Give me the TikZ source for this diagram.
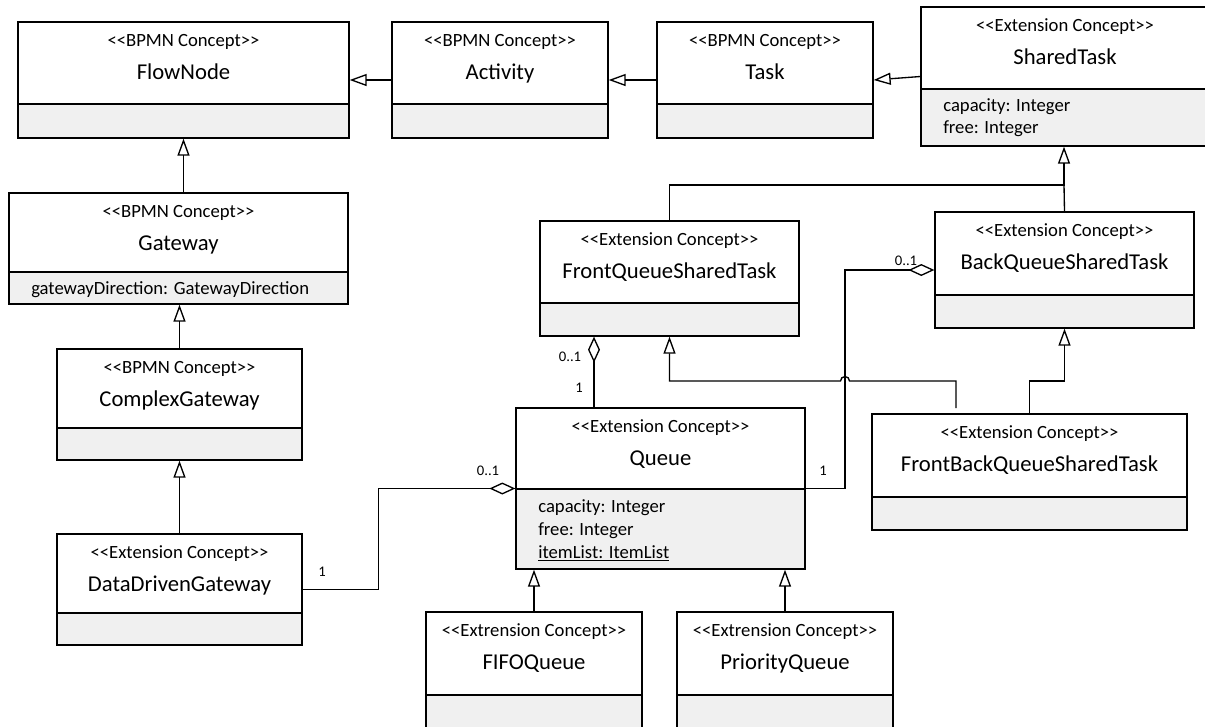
\documentclass[tikz,border=0pt]{standalone}
\usepackage{fontspec}
\setmainfont{Carlito}
\usetikzlibrary{arrows.meta, fit, calc}
\definecolor{attrfill}{RGB}{240,240,240}

\begin{document}
\begin{tikzpicture}[
    x=0.75pt, y=-0.75pt,
    umlclass/.style={draw=black, line width=1pt, inner sep=0pt, fit={#1}},
    attrs/.style={path picture={
        \fill[attrfill] (path picture bounding box.south west) rectangle ([yshift=#1*0.75pt]path picture bounding box.south east);
        \draw[line width=1pt] ([yshift=#1*0.75pt]path picture bounding box.south west) -- ([yshift=#1*0.75pt]path picture bounding box.south east);}},
    stereotext/.style={font=\fontsize{14}{16}\selectfont, inner sep=0pt, text depth=0pt, yshift=-18.75pt},
    nametext/.style={font=\fontsize{17}{20}\selectfont, inner sep=0pt, text depth=0pt, yshift=-43.5pt},
    stereo/.style={label={[stereotext]north:<{}<#1 Concept>{}>}},
    cname/.style={label={[nametext]north:#1}},
    attr/.style={font=\fontsize{14}{16}\selectfont, inner sep=0pt, anchor=base west},
    mult/.style={font=\fontsize{11}{13}\selectfont, inner sep=0pt},
    gen/.style={-{Triangle[open, length=12.75pt, width=9pt]}, line width=1pt},
    aggr/.style={-{Diamond[open, length=19.5pt, width=9pt]}, line width=1pt}
]
    \clip (0,0) rectangle (1205,726);
    \fill[white] (0,0) rectangle (1205,726);

    % BPMN classes
    \node[umlclass={(18,22)(349,138)}, attrs=34, stereo=BPMN, cname=FlowNode] (flownode) {};
    \node[umlclass={(392,22)(608,138)}, attrs=34, stereo=BPMN, cname=Activity] (activity) {};
    \node[umlclass={(657,22)(873,138)}, attrs=34, stereo=BPMN, cname=Task] (task) {};
    \node[umlclass={(9,193)(348,304)}, attrs=32, stereo=BPMN, cname=Gateway] (gateway) {};
    \node[umlclass={(57,349)(302,460)}, attrs=32, stereo=BPMN, cname=ComplexGateway] (complex) {};

    % extension classes
    \node[umlclass={(921,7)(1209,146)}, attrs=57, stereo=Extension, cname=SharedTask] (shared) {};
    \node[umlclass={(57,534)(302,645)}, attrs=32, stereo=Extension, cname=DataDrivenGateway] (ddg) {};
    \node[umlclass={(540,221)(799,336)}, attrs=33, stereo=Extension, cname=FrontQueueSharedTask] (fqst) {};
    \node[umlclass={(935,212)(1194,328)}, attrs=33, stereo=Extension, cname=BackQueueSharedTask] (bqst) {};
    \node[umlclass={(516,408)(805,569)}, attrs=80, stereo=Extension, cname=Queue] (queue) {};
    \node[umlclass={(872,414)(1187,530)}, attrs=33, stereo=Extension, cname=FrontBackQueueSharedTask] (fbqst) {};
    \node[umlclass={(426,612)(642,728)}, attrs=33, stereo=Extrension, cname=FIFOQueue] (fifo) {};
    \node[umlclass={(677,612)(893,728)}, attrs=33, stereo=Extrension, cname=PriorityQueue] (prio) {};

    % attributes
    \node[attr] (shared-cap) at (943,111) {capacity: Integer};
    \node[attr] (shared-free) at (943,133) {free: Integer};
    \node[attr] (gateway-dir) at (31,294) {gatewayDirection: GatewayDirection};
    \node[attr] (queue-cap) at (538,512) {capacity: Integer};
    \node[attr] (queue-free) at (538,535) {free: Integer};
    \node[attr] (queue-items) at (538,558) {\underline{itemList: ItemList}};

    \coordinate (qlink) at (594,0);
    \coordinate (bqlink) at (845,0);
    \coordinate (stjoin) at (1064,185);
    \coordinate (fbjoin) at (0,381);
    \coordinate (fbtail) at (956,408);

    % generalisations
    \draw[gen] (activity.west) -- (flownode.east);
    \draw[gen] (task.west) -- (activity.east);
    \draw[gen] (shared.west) -- (task.east);
    \draw[gen] (gateway.north -| flownode.south) -- (flownode.south);
    \draw[gen] (complex.north) -- (complex.north |- gateway.south);
    \draw[gen] (ddg.north) -- (complex.south);
    \draw[gen] (fqst.north) |- (stjoin) -- (stjoin |- shared.south);
    \draw[line width=1pt] (bqst.north) -- (stjoin);
    \draw[gen] (fbqst.north) -- (fbqst.north |- fbjoin) -| (bqst.south);
    \draw[gen] (fbtail) -- (fbtail |- fbjoin) -- ($(bqlink |- fbjoin)+(4.5,0)$) arc[start angle=0, end angle=180, radius=3.375pt] -| (fqst.south);
    \draw[gen] (fifo.north) -- (fifo.north |- queue.south);
    \draw[gen] (prio.north) -- (prio.north |- queue.south);

    % aggregations
    \draw[aggr] (ddg.east) -- ++(76,0) |- (queue.west);
    \draw[aggr] (queue.north -| qlink) -- (fqst.south -| qlink);
    \draw[aggr] (queue.east) -- (queue.east -| bqlink) |- (bqst.west);

    % multiplicities
    \node[mult] (m-ddg) at (322,572) {1};
    \node[mult] (m-queue-left) at (488,471) {0..1};
    \node[mult] (m-fqst) at (570,357) {0..1};
    \node[mult] (m-queue-top) at (579,388) {1};
    \node[mult] (m-queue-right) at (823,471) {1};
    \node[mult] (m-bqst) at (906,261) {0..1};
\end{tikzpicture}
\end{document}
